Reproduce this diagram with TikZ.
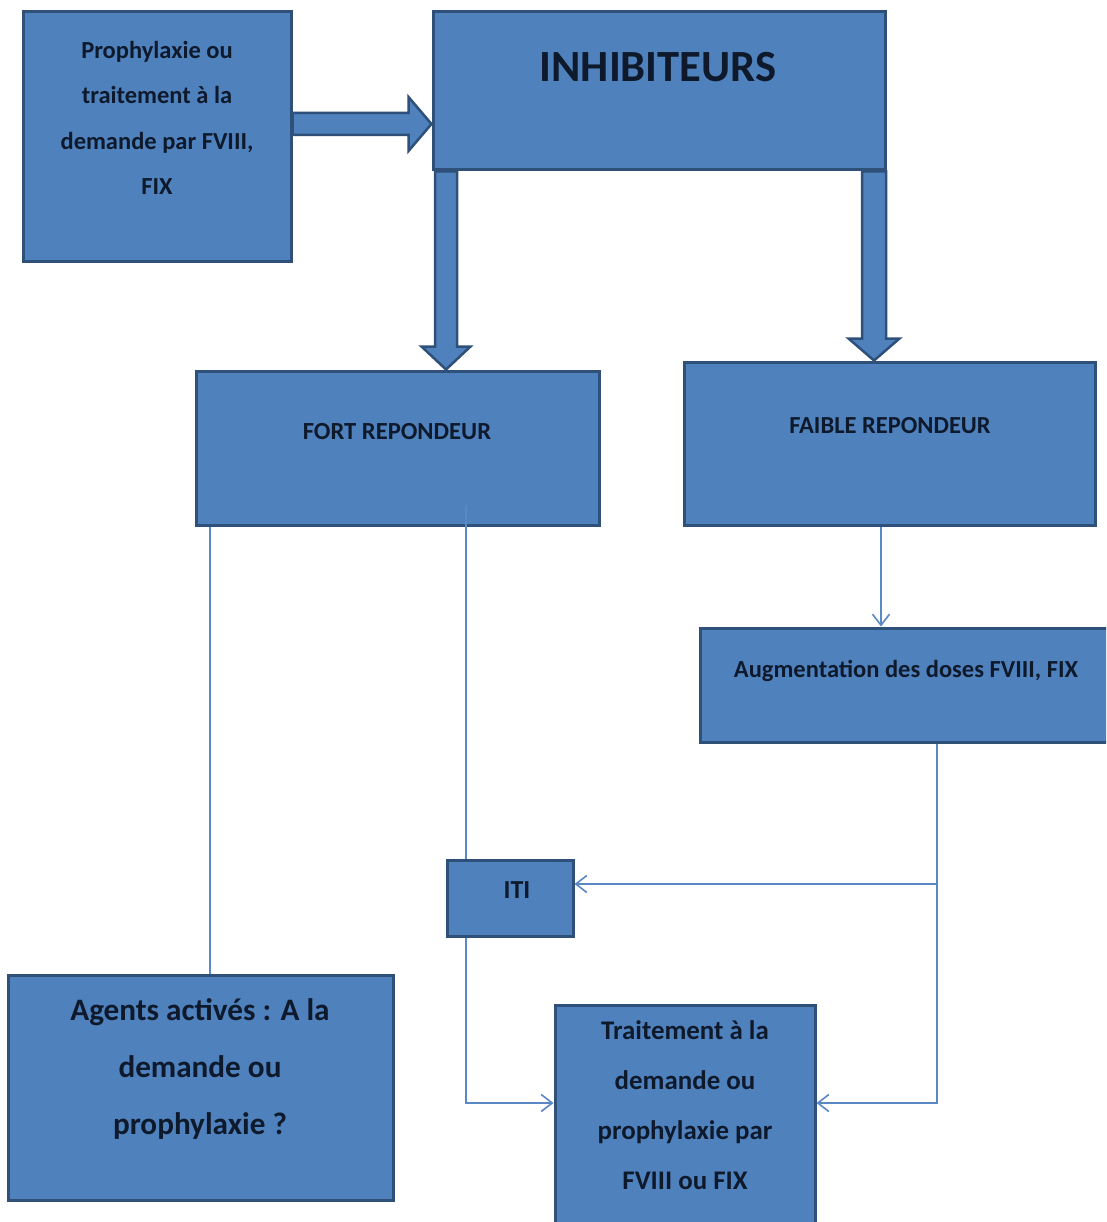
\documentclass[tikz,border=0pt]{standalone}
\usepackage{fontspec}
\setmainfont{Carlito}
\usetikzlibrary{arrows.meta,calc}

\definecolor{boxfill}{HTML}{4F81BD}
\definecolor{boxedge}{HTML}{2E5079}
\definecolor{inktext}{HTML}{0E1A2C}
\definecolor{wire}{HTML}{5A88C4}

\tikzset{
  blockbox/.style={draw=boxedge, fill=boxfill, line width=3pt, inner sep=0pt,
                   rectangle},
  blocktext/.style={text=inktext, align=center, inner sep=0pt},
  fatarrow/.style={draw=boxedge, fill=boxfill, line width=2.5pt, line join=miter},
  wireline/.style={draw=wire, line width=1.6pt},
  wirearrow/.style={wireline, -{Straight Barb[length=11pt,width=17pt,line width=1.6pt]}},
}

\begin{document}
\begin{tikzpicture}[x=1pt, y=-1pt]
  \useasboundingbox (0,0) rectangle (1106,1222);
  \clip (0,0) rectangle (1106,1222);
  \fill[white] (0,0) rectangle (1106,1222);

  % boxes
  \node[blockbox, minimum width=268pt, minimum height=250pt] (proph)  at (157,137) {};
  \node[blockbox, minimum width=452pt, minimum height=158pt] (inhib)  at (659,91) {};
  \node[blockbox, minimum width=403pt, minimum height=154pt] (fort)   at (397.5,448) {};
  \node[blockbox, minimum width=411pt, minimum height=163pt] (faible) at (889.5,443.5) {};
  \node[blockbox, minimum width=412pt, minimum height=114pt] (aug)    at (906,685) {};
  \node[blockbox, minimum width=126pt, minimum height=76pt]  (iti)    at (510,898) {};
  \node[blockbox, minimum width=385pt, minimum height=225pt] (agents) at (200.5,1087.5) {};
  \node[blockbox, minimum width=260pt, minimum height=235pt] (trait)  at (685,1122.5) {};

  % texts
  \node[blocktext, font=\bfseries\fontsize{24.5}{45.5}\selectfont] (proph-t) at (157,118)
    {Prophylaxie ou\\traitement à la\\demande par FVIII,\\FIX};
  \node[blocktext, font=\bfseries\fontsize{44.6}{50}\selectfont] (inhib-t) at (658,67) {INHIBITEURS};
  \node[blocktext, font=\bfseries\fontsize{24.6}{30}\selectfont] (fort-t) at (397,432) {FORT REPONDEUR};
  \node[blocktext, font=\bfseries\fontsize{24.5}{30}\selectfont] (faible-t) at (890,426) {FAIBLE REPONDEUR};
  \node[blocktext, font=\bfseries\fontsize{24.5}{30}\selectfont] (aug-t) at (906,670.5) {Augmentation des doses FVIII, FIX};
  \node[blocktext, font=\bfseries\fontsize{26}{30}\selectfont] (iti-t) at (517,890) {ITI};
  \node[blocktext, font=\bfseries\fontsize{31.2}{57}\selectfont] (agents-t) at (200,1069)
    {Agents activés : A la\\demande ou\\prophylaxie ?};
  \node[blocktext, font=\bfseries\fontsize{26.9}{50}\selectfont] (trait-t) at (685,1105.5)
    {Traitement à la\\demande ou\\prophylaxie par\\FVIII ou FIX};

  % block arrows
  \coordinate (ha) at (proph.east |- 0,124);
  \coordinate (hb) at (inhib.west |- 0,124);
  \filldraw[fatarrow] ($(ha)+(0,-11)$) -- ($(hb)+(-23,-11)$) -- ($(hb)+(-23,-27)$) -- (hb)
     -- ($(hb)+(-23,27)$) -- ($(hb)+(-23,11)$) -- ($(ha)+(0,11)$) -- cycle;

  \coordinate (la) at (inhib.south -| 446,0);
  \coordinate (lb) at (fort.north -| 446,0);
  \filldraw[fatarrow] ($(la)+(-11,0)$) -- ($(lb)+(-11,-23)$) -- ($(lb)+(-24.5,-23)$) -- (lb)
     -- ($(lb)+(24.5,-23)$) -- ($(lb)+(11,-23)$) -- ($(la)+(11,0)$) -- cycle;

  \coordinate (ra) at (inhib.south -| 874,0);
  \coordinate (rb) at (faible.north -| 874,0);
  \filldraw[fatarrow] ($(ra)+(-12,0)$) -- ($(rb)+(-12,-22)$) -- ($(rb)+(-25.5,-22)$) -- (rb)
     -- ($(rb)+(25.5,-22)$) -- ($(rb)+(12,-22)$) -- ($(ra)+(12,0)$) -- cycle;

  % thin connectors
  \coordinate (xl) at (210,0);
  \coordinate (xm) at (466,505);
  \coordinate (xf) at (881,0);
  \coordinate (xr) at (937,0);
  \coordinate (ylow) at (0,1103);
  \coordinate (yiti) at (0,884);

  \draw[wireline] (fort.south -| xl) -- (agents.north -| xl);
  \draw[wireline] (xm) -- (xm |- iti.north);
  \draw[wirearrow] (iti.south -| xm) |- (trait.west |- ylow);
  \draw[wirearrow] (faible.south -| xf) -- (aug.north -| xf);
  \draw[wirearrow] (aug.south -| xr) |- (trait.east |- ylow);
  \draw[wirearrow] (xr |- yiti) -- (iti.east |- yiti);
\end{tikzpicture}
\end{document}
